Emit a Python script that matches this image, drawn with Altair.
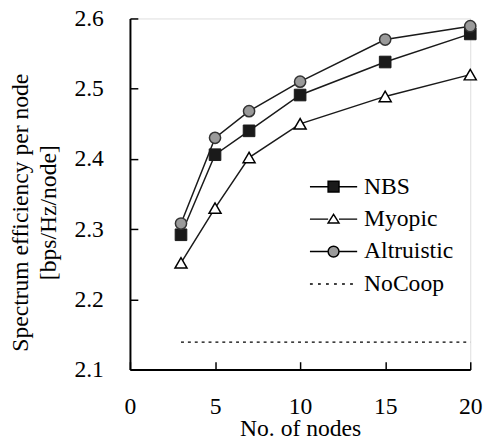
import altair as alt
import pandas as pd

nodes = [3, 5, 7, 10, 15, 20]
nbs = [2.292, 2.406, 2.440, 2.491, 2.538, 2.578]
myopic = [2.252, 2.330, 2.402, 2.450, 2.489, 2.520]
altruistic = [2.308, 2.430, 2.468, 2.510, 2.570, 2.589]
nocoop_x = [3, 20]
nocoop_y = [2.139, 2.139]
series_names = ["NBS", "Myopic", "Altruistic", "NoCoop"]
x_ticks = [0, 5, 10, 15, 20]
y_ticks = [2.1, 2.2, 2.3, 2.4, 2.5, 2.6]

FONT = "Liberation Serif"
W, H = 346, 357
NB = "\u00a0"

rows = []
for name, vals in [("NBS", nbs), ("Myopic", myopic), ("Altruistic", altruistic)]:
    for xv, yv in zip(nodes, vals):
        rows.append({"x": xv, "y": yv, "series": name})
df = pd.DataFrame(rows)
df_nc = pd.DataFrame({"x": nocoop_x, "y": nocoop_y, "series": "NoCoop"})
df_leg = pd.DataFrame({"series": series_names})

xs = alt.Scale(domain=[0, 20], nice=False, zero=False)
ys = alt.Scale(domain=[2.1, 2.6], nice=False, zero=False)

# main axes (labels, domain, titles)
x_main = alt.Axis(orient="bottom", values=x_ticks, ticks=False, grid=False,
                  domainColor="black", domainWidth=2, labelFont=FONT,
                  labelFontSize=24, labelColor="black", labelPadding=26,
                  labelFlush=False, labelOverlap=False, title="No. of nodes",
                  titleFont=FONT, titleFontSize=24, titleFontWeight="normal",
                  titleColor="black", titlePadding=-2)
y_main = alt.Axis(orient="left", values=y_ticks, format=".1f", ticks=False,
                  grid=False, domainColor="black", domainWidth=2,
                  labelFont=FONT, labelFontSize=24, labelColor="black",
                  labelPadding=27, labelFlush=False, labelOverlap=False,
                  title=["Spectrum efficiency per node", NB * 3 + "[bps/Hz/node]"],
                  titleFont=FONT, titleFontSize=24, titleFontWeight="normal",
                  titleColor="black", titleLineHeight=28, titleAngle=-90,
                  titleAlign="center", titleBaseline="middle",
                  titleX=-111, titleY=197)
# inward tick axes
x_ticks_ax = alt.Axis(orient="top", offset=-H, values=x_ticks, ticks=True,
                      tickSize=8, tickWidth=1.5, tickColor="black",
                      labels=False, domain=False, grid=False, title=None)
y_ticks_ax = alt.Axis(orient="right", offset=-W, values=y_ticks, ticks=True,
                      tickSize=8, tickWidth=1.5, tickColor="black",
                      labels=False, domain=False, grid=False, title=None)

nocoop = alt.Chart(df_nc).mark_line(
    color="black", strokeWidth=1.2, strokeDash=[3, 4]
).encode(
    x=alt.X("x:Q", scale=xs, axis=x_main),
    y=alt.Y("y:Q", scale=ys, axis=y_main),
)

lines = alt.Chart(df).mark_line(color="#1a1a1a", strokeWidth=1.5).encode(
    x=alt.X("x:Q", scale=xs, axis=x_ticks_ax),
    y=alt.Y("y:Q", scale=ys, axis=y_ticks_ax),
    detail="series:N",
)

def pts(name, shape, size, fill, stroke, sw):
    return alt.Chart(df).transform_filter(alt.datum.series == name).mark_point(
        shape=shape, size=size, fill=fill, stroke=stroke, strokeWidth=sw,
        opacity=1, fillOpacity=1
    ).encode(
        x=alt.X("x:Q", scale=xs, axis=None),
        y=alt.Y("y:Q", scale=ys, axis=None),
    )

p_nbs = pts("NBS", "square", 140, "#1a1a1a", "#1a1a1a", 1)
p_my = pts("Myopic", "triangle-up", 150, "white", "black", 1.5)
p_al = pts("Altruistic", "circle", 130, "#9a9a9a", "#333333", 1.5)

# legend symbol paths: symbol size 24px -> unit = 12px; path spans -2..2 (48px)
r = 0.46
seg = "M-2,0H-%.2f M%.2f,0H2" % (r, r)
sq_path = seg + " M-%.2f,-%.2fH%.2fV%.2fH-%.2fZ" % (r, r, r, r, r)
tri_path = seg + " M-%.2f,0.32L%.2f,0.32L0,-0.4Z" % (r, r)
cir_path = seg + " M-%.2f,0A%.2f,%.2f 0 1,0 %.2f,0A%.2f,%.2f 0 1,0 -%.2f,0Z" % (r, r, r, r, r, r, r)
dots = []
for i in range(6):
    s = -2 + i * 0.68
    dots.append("M%.2f,0H%.2f" % (s, s + 0.24))
dot_path = " ".join(dots)

legend_layer = alt.Chart(df_leg).transform_filter("false").mark_point(
    strokeWidth=1.5, opacity=1
).encode(
    shape=alt.Shape("series:N", scale=alt.Scale(domain=series_names,
                    range=[sq_path, tri_path, cir_path, dot_path]),
                    legend=alt.Legend(title=None, orient="none", legendX=194,
                                      legendY=158, labelFont=FONT,
                                      labelFontSize=24, labelColor="black",
                                      symbolSize=576, symbolStrokeWidth=1.5,
                                      symbolOpacity=1,
                                      rowPadding=8, labelOffset=18, padding=0)),
    fill=alt.Fill("series:N", scale=alt.Scale(domain=series_names,
                  range=["#1a1a1a", "white", "#9a9a9a", "transparent"])),
    stroke=alt.Stroke("series:N", scale=alt.Scale(domain=series_names,
                      range=["black", "black", "black", "black"])),
)

chart = alt.layer(nocoop, lines, p_nbs, p_my, p_al, legend_layer).resolve_axis(
    x="independent", y="independent"
).properties(
    width=W, height=H,
    autosize=alt.AutoSizeParams(type="none"),
    padding={"left": 124, "top": 7, "right": 16, "bottom": 72},
).configure_view(stroke="#777777", strokeWidth=1).configure(background="white")

chart.save("out.html", embed_options={"renderer": "svg", "actions": False})
